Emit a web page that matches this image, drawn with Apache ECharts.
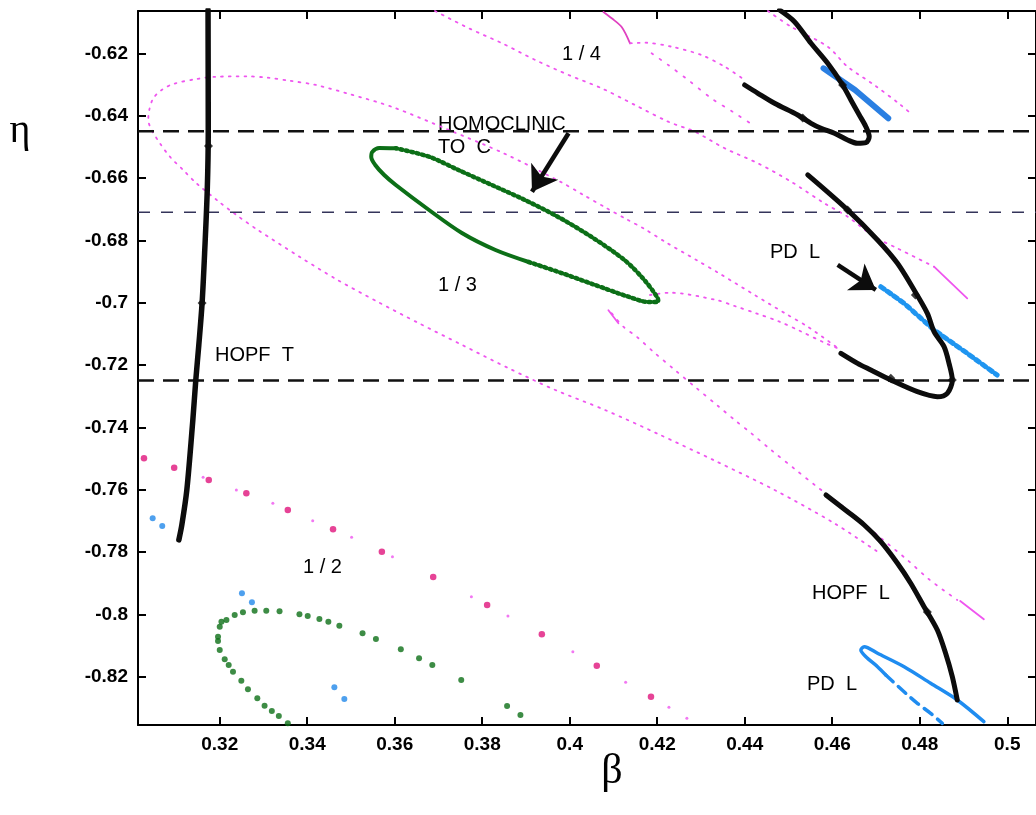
<!DOCTYPE html>
<html><head><meta charset="utf-8">
<script src="https://cdn.jsdelivr.net/npm/echarts@6/dist/echarts.min.js"></script>
<style>html,body{margin:0;padding:0;background:#fff}#c{width:1036px;height:815px}</style>
</head><body><div id="c"></div>
<script>
// ---- axes ----
const xTicks = [0.32,0.34,0.36,0.38,0.40,0.42,0.44,0.46,0.48,0.50];
const yTicks = [-0.82,-0.80,-0.78,-0.76,-0.74,-0.72,-0.70,-0.68,-0.66,-0.64,-0.62];
const xRange = [0.30132, 0.50657];
const yRange = [-0.83548, -0.60643];
const dashedThick = [-0.645, -0.725];
const dashedThin = [-0.671];

// ---- black Hopf curves ----
const hopfT = [[0.31733,-0.6061],[0.31738,-0.6452],[0.31715,-0.6639],[0.31658,-0.6831],[0.31597,-0.7001],[0.31522,-0.7136],[0.31453,-0.7248],[0.31385,-0.7377],[0.31248,-0.7601],[0.31134,-0.7713],[0.31066,-0.7761]];
const hopfUpper = [[0.44796,-0.60611],[0.45137,-0.60986],[0.45515,-0.61679],[0.45896,-0.62321],[0.46237,-0.63017],[0.46426,-0.63498],[0.46618,-0.63979],[0.46768,-0.64355],[0.46845,-0.64675],[0.46768,-0.64868],[0.46579,-0.64887],[0.46351,-0.64781],[0.46049,-0.64566],[0.45744,-0.64406],[0.45516,-0.64246],[0.45212,-0.63979],[0.44681,-0.63604],[0.44301,-0.63283],[0.43998,-0.63017]];
const hopfMiddle = [[0.45440,-0.65902],[0.46351,-0.67025],[0.47035,-0.67989],[0.47490,-0.68737],[0.47871,-0.69593],[0.48174,-0.70341],[0.48327,-0.70931],[0.48555,-0.71412],[0.48669,-0.71945],[0.48744,-0.72481],[0.48630,-0.72908],[0.48402,-0.73016],[0.47946,-0.72856],[0.47338,-0.72481],[0.46882,-0.72160],[0.46579,-0.71945],[0.46199,-0.71624]];
const hopfL = [[0.45857,-0.76169],[0.46351,-0.76705],[0.46731,-0.77132],[0.47110,-0.77668],[0.47490,-0.78361],[0.47793,-0.79002],[0.48098,-0.79753],[0.48402,-0.80501],[0.48591,-0.81248],[0.48744,-0.81999],[0.48857,-0.82746]];
const hopfMarks = [[0.31743,-0.64974],[0.31597,-0.70010],[0.46237,-0.63017],[0.45326,-0.64076],[0.46351,-0.67025],[0.47900,-0.69754],[0.48744,-0.72481],[0.47338,-0.72426],[0.48174,-0.79923]];

// ---- blue period doubling ----
const pdUpper = [[0.45800,-0.62481],[0.46521,-0.63177],[0.47280,-0.64085]];
const pdMiddle = [[0.47110,-0.69487],[0.47643,-0.70020],[0.48327,-0.70876],[0.49085,-0.71624],[0.49768,-0.72320]];
const pdLowerSolid = [[0.49466,-0.83442],[0.48857,-0.82746],[0.48249,-0.82210],[0.47643,-0.81678],[0.47035,-0.81248],[0.46731,-0.81036],[0.46654,-0.81142],[0.46768,-0.81357],[0.47035,-0.81678],[0.47224,-0.81944]];
const pdLowerDashed = [[0.47224,-0.81944],[0.47680,-0.82531],[0.47946,-0.82852],[0.48249,-0.83173],[0.48516,-0.83494]];
const pdDots = [[0.30467,-0.76917],[0.30686,-0.77164],[0.32508,-0.79323],[0.32736,-0.79612],[0.34620,-0.82339],[0.34848,-0.82714]];

// ---- green homoclinic ----
const homSolid = [[0.36025,-0.65048],[0.35645,-0.65038],[0.35485,-0.65166],[0.35463,-0.65327],[0.35554,-0.65583],[0.35759,-0.65904],[0.36025,-0.66225],[0.36784,-0.67027],[0.37535,-0.67765],[0.38303,-0.68310],[0.39062,-0.68695]];
const homDotted = [[0.39062,-0.68695],[0.39813,-0.69048],[0.40581,-0.69433],[0.41340,-0.69808],[0.41796,-0.69978],[0.42023,-0.69978],[0.42009,-0.69850],[0.41705,-0.69272],[0.41250,-0.68631],[0.40490,-0.67883],[0.39725,-0.67242],[0.38975,-0.66706],[0.38219,-0.66225],[0.37455,-0.65744],[0.36784,-0.65317],[0.36025,-0.65048]];
const homHalf = [[0.33556,-0.83494],[0.33351,-0.83259],[0.33191,-0.83099],[0.33025,-0.82929],[0.32859,-0.82691],[0.32645,-0.82403],[0.32494,-0.82127],[0.32303,-0.81838],[0.32205,-0.81623],[0.32114,-0.81440],[0.32000,-0.81142],[0.31961,-0.80853],[0.31961,-0.80715],[0.32000,-0.80394],[0.32039,-0.80234],[0.32153,-0.80180],[0.32342,-0.80019],[0.32531,-0.79932],[0.32797,-0.79881],[0.33064,-0.79881],[0.33367,-0.79900],[0.33822,-0.79997],[0.34011,-0.80051],[0.34278,-0.80148],[0.34483,-0.80234],[0.34734,-0.80362],[0.35264,-0.80606],[0.35570,-0.80789],[0.36139,-0.81120],[0.36556,-0.81409],[0.36859,-0.81624],[0.37520,-0.82104],[0.38568,-0.82939],[0.38873,-0.83228]];

// ---- magenta resonance tongues ----
const tongueHalfBig = [[0.30269,-0.74992],[0.30959,-0.75294],[0.31749,-0.75689],[0.32608,-0.76115],[0.33556,-0.76651],[0.34590,-0.77270],[0.35706,-0.77989],[0.36879,-0.78800],[0.38112,-0.79699],[0.39362,-0.80638],[0.40618,-0.81646],[0.41857,-0.82640]];
const tongueHalfSmall = [[0.31620,-0.75602],[0.32380,-0.76009],[0.33214,-0.76436],[0.34125,-0.76994],[0.35014,-0.77527],[0.35948,-0.78149],[0.37752,-0.79432],[0.38588,-0.80051],[0.40071,-0.81197],[0.41278,-0.82178],[0.42267,-0.82980],[0.42677,-0.83333]];
const tongueThird = [[0.46085,-0.71412],[0.45440,-0.70771],[0.44946,-0.70363],[0.44226,-0.69754],[0.43390,-0.69038],[0.42896,-0.68631],[0.42212,-0.68076],[0.41682,-0.67614],[0.41301,-0.67325],[0.40809,-0.66940],[0.40315,-0.66546],[0.39784,-0.66119],[0.38492,-0.65208],[0.37239,-0.64461],[0.35964,-0.63732],[0.34961,-0.63306],[0.34203,-0.63017],[0.33595,-0.62879],[0.33100,-0.62783],[0.32608,-0.62738],[0.31925,-0.62751],[0.31469,-0.62824],[0.30936,-0.62985],[0.30672,-0.63177],[0.30481,-0.63444],[0.30389,-0.63819],[0.30367,-0.64140],[0.30444,-0.64461],[0.30633,-0.64887],[0.30861,-0.65317],[0.31164,-0.65744],[0.31469,-0.66170],[0.31961,-0.66738],[0.32380,-0.67187],[0.32872,-0.67669],[0.33822,-0.68525],[0.34695,-0.69273],[0.35606,-0.69969],[0.36556,-0.70662],[0.37542,-0.71358],[0.38606,-0.72105],[0.39670,-0.72801],[0.40809,-0.73443],[0.42023,-0.74213],[0.43315,-0.75069],[0.44682,-0.76009],[0.46048,-0.77078],[0.47035,-0.77989]];
const tongueThirdInner = [[0.41834,-0.69754],[0.42290,-0.69680],[0.43351,-0.69914],[0.43770,-0.70107],[0.44262,-0.70341],[0.44796,-0.70610],[0.45251,-0.70899],[0.45821,-0.71284],[0.46124,-0.71464]];
const tongueQuarterA = [[0.36920,-0.60643],[0.37695,-0.61198],[0.38454,-0.61679],[0.39214,-0.62215],[0.39973,-0.62696],[0.40732,-0.63123],[0.41492,-0.63659],[0.42251,-0.64194],[0.42859,-0.64515],[0.43543,-0.65048],[0.44301,-0.65529],[0.45060,-0.66119],[0.45821,-0.66812],[0.46351,-0.67242],[0.46960,-0.67884],[0.47490,-0.68256],[0.48326,-0.68846]];
const tongueQuarterAEnd = [[0.48326,-0.68846],[0.49085,-0.69860]];
const tongueQuarterB = [[0.40959,-0.70341],[0.41226,-0.70771],[0.41529,-0.71091],[0.41909,-0.71573],[0.42404,-0.72160],[0.42859,-0.72696],[0.43390,-0.73315],[0.43770,-0.73764],[0.44149,-0.74190],[0.44604,-0.74726],[0.45151,-0.75345],[0.45629,-0.75881],[0.46351,-0.76651],[0.47073,-0.77507],[0.47718,-0.78255],[0.48212,-0.78874],[0.48857,-0.79538]];
const tongueQuarterBEnd = [[0.48925,-0.79570],[0.49465,-0.80157]];
const tongueCross = [[0.40884,-0.70245],[0.41112,-0.70662]];
const cuspSolid = [[0.40770,-0.60675],[0.40959,-0.60877],[0.41187,-0.61156],[0.41378,-0.61679]];
const cuspDotted = [[0.41378,-0.61679],[0.41720,-0.61660],[0.42326,-0.61788],[0.43010,-0.62055],[0.43543,-0.62430],[0.43998,-0.62857]];
const tongueRight = [[0.44529,-0.60643],[0.45060,-0.61147],[0.45896,-0.61788],[0.46351,-0.62430],[0.46960,-0.63017],[0.47566,-0.63659],[0.47832,-0.63979]];
const tongueMid = [[0.41871,-0.62000],[0.42251,-0.62375],[0.42707,-0.62857],[0.43237,-0.63444],[0.43732,-0.63883],[0.44187,-0.64300]];

// ---- arrows ----
const arrowHom = [[0.39973,-0.64566],[0.39137,-0.66440]];
const arrowPD = [[0.46124,-0.68791],[0.46996,-0.69593]];

const MAG = '#ef55ef', MAGD = '#e0147c', BLK = '#0c0c0c', BLUE = '#2288ea', GRN = '#0c6f17';
const FONT = '"Liberation Sans", Arial, sans-serif';

function ln(data, color, width, type, z, smooth) {
  return {type:'line', data, showSymbol:false, symbol:'none', smooth: smooth===undefined?0.3:smooth,
    lineStyle:{color, width, type: type||'solid', cap:'round', join:'round'}, z: z||2, silent:true, animation:false};
}
function sc(data, color, size, z, symbol) {
  return {type:'scatter', data, symbol: symbol||'circle', symbolSize:size, itemStyle:{color}, z: z||3, silent:true, animation:false};
}
function hline(v, color, width, dash) {
  return {type:'line', data:[[xRange[0], v],[xRange[1], v]], showSymbol:false, symbol:'none',
    lineStyle:{color, width, type: dash}, z:4, silent:true, animation:false};
}
const fmt = v => String(+(+v).toFixed(2));

const chart = echarts.init(document.getElementById('c'), null, {renderer:'canvas'});
const axisCommon = {splitLine:{show:false}, axisLine:{show:true, onZero:false, lineStyle:{color:'#000', width:2}}};
const tickLabel = {show:true, formatter:fmt, margin:10, color:'#000', fontSize:19, fontWeight:'bold', fontFamily:FONT};
const option = {
  backgroundColor:'#fff',
  animation:false,
  grid:{left:138, top:11, right:-3, bottom:90, containLabel:false},
  xAxis:[
    Object.assign({type:'value', min:xRange[0], max:xRange[1], position:'bottom',
      axisTick:{show:true, inside:true, length:8, customValues:xTicks, lineStyle:{color:'#000', width:2}},
      axisLabel:Object.assign({customValues:xTicks}, tickLabel)}, axisCommon),
    Object.assign({type:'value', min:xRange[0], max:xRange[1], position:'top',
      axisTick:{show:true, inside:true, length:8, customValues:xTicks, lineStyle:{color:'#000', width:2}},
      axisLabel:{show:false}}, axisCommon)
  ],
  yAxis:[
    Object.assign({type:'value', min:yRange[0], max:yRange[1], position:'left',
      axisTick:{show:true, inside:true, length:8, customValues:yTicks, lineStyle:{color:'#000', width:2}},
      axisLabel:Object.assign({customValues:yTicks}, tickLabel)}, axisCommon),
    Object.assign({type:'value', min:yRange[0], max:yRange[1], position:'right',
      axisTick:{show:true, inside:true, length:8, customValues:yTicks, lineStyle:{color:'#000', width:2}},
      axisLabel:{show:false}}, axisCommon)
  ],
  series:[
    ln(tongueThird, MAG, 1.8, [1.8,6], 1),
    ln(tongueThirdInner, MAG, 1.8, [1.8,6], 1),
    ln(tongueQuarterA, MAG, 1.8, [1.8,6], 1),
    ln(tongueQuarterAEnd, MAG, 1.8, 'solid', 1, 0),
    ln(tongueQuarterB, MAG, 1.8, [1.8,7], 1),
    ln(tongueQuarterBEnd, MAG, 1.8, 'solid', 1, 0),
    ln(tongueCross, MAG, 1.8, 'solid', 1, 0),
    ln(cuspSolid, '#e040c0', 1.8, 'solid', 1),
    ln(cuspDotted, MAG, 1.8, [1.8,6], 1),
    ln(tongueRight, MAG, 1.8, [1.8,6], 1),
    ln(tongueMid, MAG, 1.8, [1.8,8], 1),
    sc(tongueHalfSmall, MAG, 3, 2),
    sc(tongueHalfBig, MAGD, 6.5, 2),
    hline(dashedThick[0], '#111', 2.5, [16,9]),
    hline(dashedThick[1], '#111', 2.5, [16,9]),
    hline(dashedThin[0], '#34345a', 1.6, [12,11]),
    ln(homSolid, GRN, 4, 'solid', 5),
    ln(homDotted, GRN, 4.5, [2,3.5], 5),
    sc(homHalf, GRN, 6, 5),
    sc(pdDots, BLUE, 6, 5),
    ln(pdUpper, '#2a7fe2', 6, 'solid', 6, 0),
    ln(pdMiddle, '#1f95f0', 5, [4,4], 6, 0),
    ln(pdLowerSolid, '#1f8cf0', 3.5, 'solid', 6),
    ln(pdLowerDashed, '#1f8cf0', 3.5, [10,7], 6),
    ln(hopfT, BLK, 5.5, 'solid', 7),
    ln(hopfUpper, BLK, 5, 'solid', 7),
    ln(hopfMiddle, BLK, 5, 'solid', 7),
    ln(hopfL, BLK, 5, 'solid', 7),
    sc(hopfMarks, BLK, 9, 8, 'diamond'),
    {type:'lines', coordinateSystem:'cartesian2d', z:9, silent:true, animation:false,
      symbol:['none','arrow'], symbolSize:24,
      lineStyle:{color:BLK, width:4.5, opacity:1, curveness:0},
      data:[{coords:arrowHom},{coords:arrowPD}]}
  ],
  graphic:[
    {type:'text', x:562, y:54, style:{text:'1 / 4', font:'20px '+FONT, fill:'#000', textVerticalAlign:'middle'}},
    {type:'text', x:438, y:124.5, style:{text:'HOMOCLINIC', font:'20px '+FONT, fill:'#000', textVerticalAlign:'middle'}},
    {type:'text', x:438, y:147.5, style:{text:'TO  C', font:'20px '+FONT, fill:'#000', textVerticalAlign:'middle'}},
    {type:'text', x:438, y:285.5, style:{text:'1 / 3', font:'20px '+FONT, fill:'#000', textVerticalAlign:'middle'}},
    {type:'text', x:215, y:355.5, style:{text:'HOPF  T', font:'20px '+FONT, fill:'#000', textVerticalAlign:'middle'}},
    {type:'text', x:770, y:252.5, style:{text:'PD  L', font:'20px '+FONT, fill:'#000', textVerticalAlign:'middle'}},
    {type:'text', x:303, y:567.5, style:{text:'1 / 2', font:'20px '+FONT, fill:'#000', textVerticalAlign:'middle'}},
    {type:'text', x:812, y:593, style:{text:'HOPF  L', font:'20px '+FONT, fill:'#000', textVerticalAlign:'middle'}},
    {type:'text', x:807, y:684, style:{text:'PD  L', font:'20px '+FONT, fill:'#000', textVerticalAlign:'middle'}},
    {type:'text', x:20, y:131, style:{text:'η', font:'40px "Liberation Serif", serif', fill:'#000', textAlign:'center', textVerticalAlign:'middle'}},
    {type:'text', x:612, y:772, style:{text:'β', font:'42px "Liberation Serif", serif', fill:'#000', textAlign:'center', textVerticalAlign:'middle'}}
  ]
};
chart.setOption(option);
</script>
</body></html>
